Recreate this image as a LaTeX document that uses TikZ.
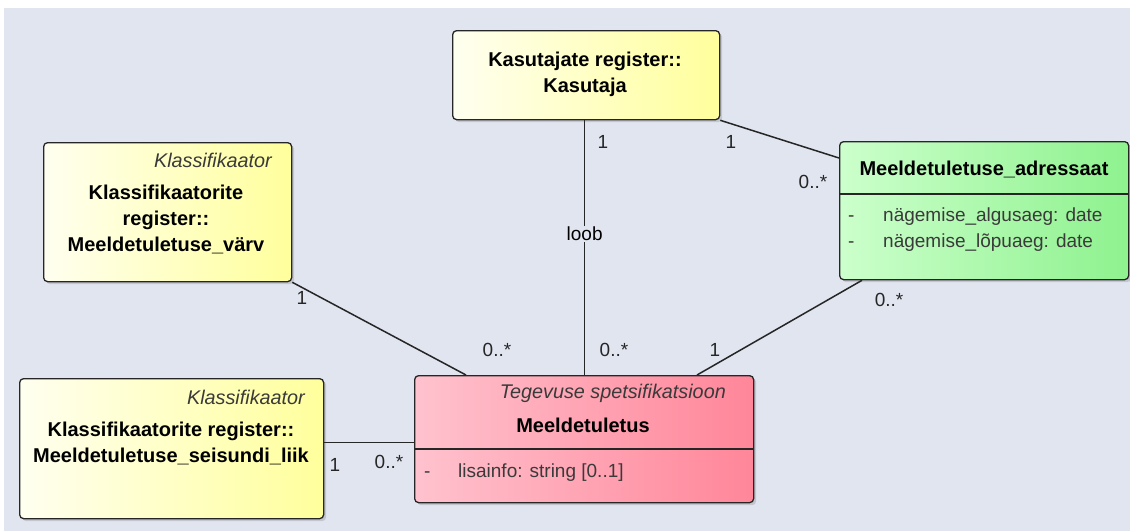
\documentclass[tikz,border=0pt]{standalone}
\usepackage{fontspec}
\setmainfont{Liberation Sans}
\usetikzlibrary{calc,shadows}
\definecolor{bg}{HTML}{E1E5F0}
\definecolor{yelL}{HTML}{FFFFF0}
\definecolor{yelR}{HTML}{FFFF9C}
\definecolor{grnL}{HTML}{CCFFCC}
\definecolor{grnR}{HTML}{8EF28E}
\definecolor{pnkL}{HTML}{FFC2CE}
\definecolor{pnkR}{HTML}{FF8699}
\definecolor{attr}{HTML}{3A3A3A}
\tikzset{
  cls/.style={draw=black!85, line width=1.3pt, rounded corners=4pt,
    anchor=north west, inner sep=0pt,
    drop shadow={shadow xshift=2.5pt, shadow yshift=-2.5pt, opacity=0.3}},
  yelbox/.style={cls, left color=yelL, right color=yelR},
  grnbox/.style={cls, left color=grnL, right color=grnR},
  pnkbox/.style={cls, left color=pnkL, right color=pnkR},
  title/.style={font=\fontsize{20}{26}\selectfont\bfseries, align=center, inner sep=0pt},
  stereo/.style={font=\fontsize{19.8}{24}\selectfont\itshape, color=attr, anchor=east, inner sep=0pt},
  attrtxt/.style={font=\fontsize{19}{24}\selectfont, color=attr, anchor=base west, inner sep=0pt},
  mult/.style={font=\fontsize{19}{24}\selectfont, color=black!85, inner sep=1pt},
  assoc/.style={line width=1.5pt, draw=black!85},
  sep/.style={line width=1.3pt, draw=black!85}
}
\begin{document}
\begin{tikzpicture}[x=1pt,y=-1pt]
  \useasboundingbox (0,0) rectangle (1130,531);
  \fill[bg] (4,8) rectangle (1130,531);

  % classes
  \node[yelbox, minimum width=267pt, minimum height=89pt] (kas) at (452,30) {};
  \node[title] (kast) at (585,74) {Kasutajate register::\\Kasutaja};

  \node[yelbox, minimum width=248pt, minimum height=139pt] (varv) at (43,142) {};
  \node[stereo] (varvs) at (272,160) {Klassifikaator};
  \node[title] (varvt) at (166,219) {Klassifikaatorite\\register::\\Meeldetuletuse\_värv};

  \node[yelbox, minimum width=304pt, minimum height=140pt] (seis) at (19,378) {};
  \node[stereo] (seiss) at (305,397) {Klassifikaator};
  \node[title] (seist) at (171,443) {Klassifikaatorite register::\\Meeldetuletuse\_seisundi\_liik};

  \node[grnbox, minimum width=289pt, minimum height=138pt] (adr) at (839,141) {};
  \node[title] (adrt) at (984,169) {Meeldetuletuse\_adressaat};
  \draw[sep] (adr.west |- 0,194) -- (adr.east |- 0,194);
  \node[attrtxt] (adrd1) at (848,221) {-};
  \node[attrtxt] (adra1) at (883,221) {nägemise\_algusaeg: date};
  \node[attrtxt] (adrd2) at (848,247) {-};
  \node[attrtxt] (adra2) at (883,247) {nägemise\_lõpuaeg: date};

  \node[pnkbox, minimum width=339pt, minimum height=127pt] (mt) at (414,375) {};
  \node[stereo] (mts) at (726,393) {Tegevuse spetsifikatsioon};
  \node[title] (mtt) at (583,425) {Meeldetuletus};
  \draw[sep] (mt.west |- 0,449) -- (mt.east |- 0,449);
  \node[attrtxt] (mtd) at (424,477) {-};
  \node[attrtxt] (mta) at (458,477) {lisainfo: string [0..1]};

  % associations
  \coordinate (kasb) at ($(kas.south)+(-1.5,0)$);
  \draw[assoc] (kasb) -- (kasb |- mt.north)
    node[pos=0.445, fill=bg, font=\fontsize{19}{24}\selectfont, inner sep=1pt] (loob) {loob};

  \coordinate (adrin) at ($(adr.north west)+(0,17)$);
  \draw[assoc] (kas.south east) -- (adrin);

  \coordinate (adrout) at ($(adr.south west)+(23,0)$);
  \coordinate (mtin) at ($(mt.north west)+(283,0)$);
  \draw[assoc] (adrout) -- (mtin);

  \coordinate (mtin2) at ($(mt.north west)+(52,0)$);
  \draw[assoc] (varv.south east) -- (mtin2);

  \coordinate (seisout) at ($(seis.east)+(0,-6)$);
  \draw[assoc] (seisout) -- (seisout -| mt.west);

  % multiplicities
  \node[mult] (m1) at (603,142) {1};
  \node[mult] (m2) at (731,142) {1};
  \node[mult] (m3) at (813,182) {0..*};
  \node[mult] (m4) at (302,298) {1};
  \node[mult] (m5) at (497,350) {0..*};
  \node[mult] (m6) at (614,350) {0..*};
  \node[mult, fill=bg] (m7) at (715,350) {1};
  \node[mult] (m8) at (889,300) {0..*};
  \node[mult] (m9) at (335,465) {1};
  \node[mult] (m10) at (389,462) {0..*};
\end{tikzpicture}
\end{document}
